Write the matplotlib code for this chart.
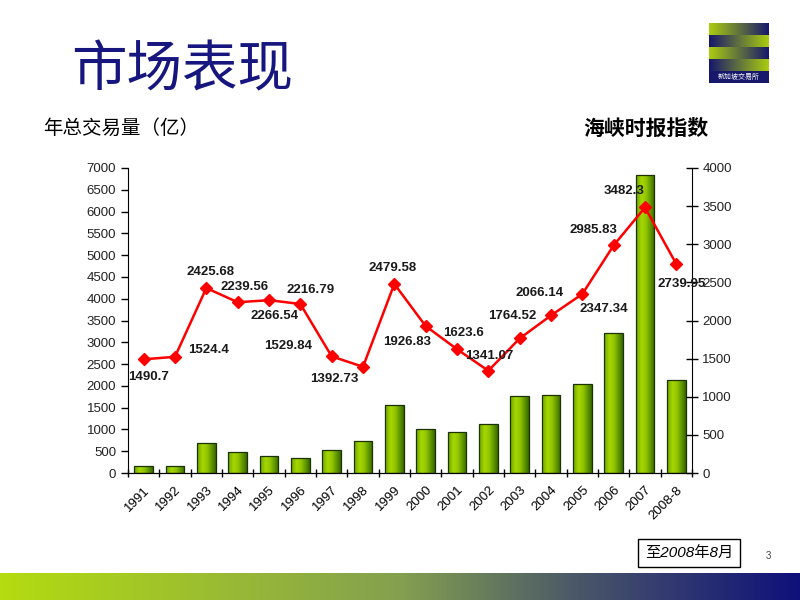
import numpy as np
import matplotlib
matplotlib.use('Agg')
import matplotlib.pyplot as plt
import matplotlib.transforms as mtransforms
from matplotlib.colors import LinearSegmentedColormap, to_rgb
from matplotlib.patches import Rectangle

plt.rcParams['font.family'] = ['Liberation Sans', 'Noto Sans CJK SC']

# Daten
years = ['1991', '1992', '1993', '1994', '1995', '1996', '1997', '1998', '1999',
         '2000', '2001', '2002', '2003', '2004', '2005', '2006', '2007', '2008-8']
volume = [170, 150, 690, 480, 390, 345, 530, 740, 1560,
          1000, 940, 1125, 1765, 1790, 2050, 3210, 6850, 2140]
sti = [1490.7, 1524.4, 2425.68, 2239.56, 2266.54, 2216.79, 1529.84, 1392.73, 2479.58,
       1926.83, 1623.6, 1341.07, 1764.52, 2066.14, 2347.34, 2985.83, 3482.3, 2739.95]
sti_labels = ['1490.7', '1524.4', '2425.68', '2239.56', '2266.54', '2216.79', '1529.84',
              '1392.73', '2479.58', '1926.83', '1623.6', '1341.07', '1764.52', '2066.14',
              '2347.34', '2985.83', '3482.3', '2739.95']
# label offsets in pixels (dx, dy)
label_offsets = [(5, -18), (34, 7), (4, 16), (7, 15), (6, -16), (10, 14), (-44, 10),
                 (-29, -12), (-2, 16), (-19, -16), (7, 16), (1, 15), (-7, 22),
                 (-11, 22), (21, -15), (-20, 15), (-21, 16), (5, -20)]

fig = plt.figure(figsize=(8, 6), dpi=100)
fig.patch.set_facecolor('white')

ax = fig.add_axes([128/800, 1-473/600, 564/800, 305/600])
x = np.arange(len(years))

# Balken mit Farbverlauf
bars = ax.bar(x, volume, width=0.6, facecolor='none', edgecolor='#1c3300',
              linewidth=0.9, zorder=3)
grad = np.linspace(0, 1, 256).reshape(1, -1)
bar_cmap = LinearSegmentedColormap.from_list(
    'bar', [(0, '#6aa400'), (0.3, '#a8d800'), (0.55, '#8ec400'), (1, '#356800')])
for rect in bars:
    bx, by = rect.get_x(), rect.get_y()
    bw, bh = rect.get_width(), rect.get_height()
    im = ax.imshow(grad, extent=[bx, bx+bw, by, by+bh], aspect='auto',
                   cmap=bar_cmap, zorder=2, interpolation='bilinear')
    im.set_clip_path(rect)

ax.set_xlim(-0.5, len(years)-0.5)
ax.set_ylim(0, 7000)
ax.set_yticks(np.arange(0, 7001, 500))
ax.set_xticks(x)
ax.set_xticklabels(years, rotation=45, ha='right', rotation_mode='anchor', fontsize=9.5)
shift = mtransforms.ScaledTranslation(-10/100, -3/100, fig.dpi_scale_trans)
for lbl in ax.get_xticklabels():
    lbl.set_transform(lbl.get_transform() + shift)
ax.set_xticks(np.arange(-0.5, len(years), 1), minor=True)
ax.tick_params(axis='x', which='major', length=0, pad=8)
ax.tick_params(axis='x', which='minor', length=6, direction='inout', width=1)
ax.tick_params(axis='y', length=5, direction='out', width=1, labelsize=9.5,
               labelcolor='#222222')
ax.spines['top'].set_visible(False)
ax.spines['right'].set_visible(False)
ax.set_facecolor('none')

# Indexlinie
ax2 = ax.twinx()
ax2.plot(x, sti, color='#ff0000', linewidth=1.8, marker='D', markersize=6,
         markeredgecolor='#ff0000', zorder=5)
ax2.set_ylim(0, 4000)
ax2.set_yticks(np.arange(0, 4001, 500))
ax2.tick_params(axis='y', length=8, direction='inout', width=1, labelsize=9.5,
                labelcolor='#222222')
ax2.spines['top'].set_visible(False)
ax2.spines['left'].set_visible(False)
for i, (v, t) in enumerate(zip(sti, sti_labels)):
    dx, dy = label_offsets[i]
    ax2.annotate(t, (x[i], v), xytext=(dx, dy), textcoords='offset pixels',
                 ha='center', va='center', fontsize=9.5, fontweight='bold',
                 color='#1a1a1a', zorder=6)

# Titel
fig.text(182/800, 1-71/600, '市场表现', family='Noto Sans CJK SC', fontsize=40,
         color='#16167e', ha='center', va='center')
fig.text(43/800, 1-128/600, '年总交易量（亿）', family='Noto Sans CJK SC', fontsize=14,
         color='black', ha='left', va='center')
fig.text(583/800, 1-128/600, '海峡时报指数', family='Noto Sans CJK SC', fontsize=15,
         fontweight='bold', color='black', ha='left', va='center')

# Logo
lime = np.array(to_rgb('#aacc10'))
navy = np.array(to_rgb('#17186c'))
t = np.linspace(0, 1, 60).reshape(1, -1, 1)
fwd = lime*(1-t) + navy*t
rev = navy*(1-t) + lime*t
logo = np.concatenate([np.repeat(fwd, 12, axis=0), np.repeat(rev, 12, axis=0),
                       np.repeat(fwd, 12, axis=0), np.repeat(rev, 12, axis=0),
                       np.tile(navy, (12, 60, 1))], axis=0)
lax = fig.add_axes([709/800, 1-83/600, 60/800, 60/600])
lax.imshow(logo, aspect='auto', interpolation='bilinear')
lax.axis('off')
lax.text(0.5, 0.1, '新加坡交易所', transform=lax.transAxes, ha='center', va='center',
         family='Noto Sans CJK SC', fontsize=5, color='white')

# Fusszeile
box = Rectangle((638/800, 1-567/600), 102/800, 28/600, transform=fig.transFigure,
                facecolor='white', edgecolor='black', linewidth=1)
fig.add_artist(box)
fig.text(689/800, 1-553/600, '至2008年8月', family=['Liberation Sans', 'Noto Sans CJK SC'],
         style='italic', fontsize=11, ha='center', va='center')
fig.text(768/800, 1-556/600, '3', fontsize=7, color='#444444', ha='center', va='center')

band_cmap = LinearSegmentedColormap.from_list(
    'band', [(0, '#b4dc10'), (0.5, '#84a050'), (0.72, '#4a5868'), (1, '#10107a')])
bax = fig.add_axes([0, 0, 1, 27/600])
bax.imshow(np.linspace(0, 1, 512).reshape(1, -1), aspect='auto', cmap=band_cmap)
bax.axis('off')

fig.savefig('out.png', dpi=100)
